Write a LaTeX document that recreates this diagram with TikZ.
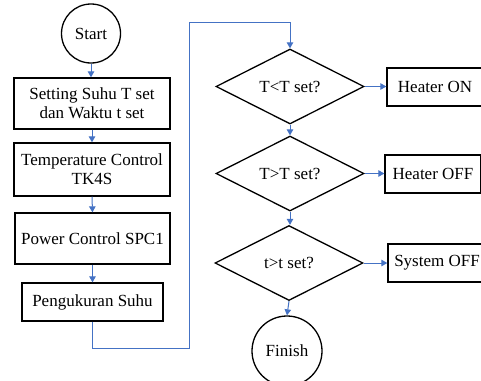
\documentclass[tikz,border=0pt]{standalone}
\usepackage{fontspec}
\setmainfont{Liberation Serif}
\usetikzlibrary{shapes.geometric,arrows.meta}
\definecolor{flowblue}{RGB}{68,114,196}
\tikzset{
  base/.style={draw=black,line width=1.3pt,font=\fontsize{17}{19}\selectfont,align=center,inner sep=0pt},
  procbox/.style={base,rectangle,minimum width=#1},
  termcirc/.style={base,circle,minimum size=#1},
  decision/.style={base,diamond,minimum width=148pt,minimum height=75pt,aspect=2},
  flow/.style={draw=flowblue,line width=1pt,-{Triangle[length=6pt,width=6.5pt]}},
}
\begin{document}
\begin{tikzpicture}[x=1pt,y=-1pt]
\useasboundingbox (0,0) rectangle (481,380);
\clip (0,0) rectangle (481,380);
% left column
\node[termcirc=59pt] (start) at (91,33.5) {Start};
\node[procbox=156pt,minimum height=51pt] (b1) at (92,103.5) {Setting Suhu T set\\dan Waktu t set};
\node[procbox=156pt,minimum height=53pt] (b2) at (92,169.5) {Temperature Control\\TK4S};
\node[procbox=155pt,minimum height=51pt] (b3) at (92.5,238.5) {Power Control SPC1};
\node[procbox=141pt,minimum height=38pt] (b4) at (92.5,302) {Pengukuran Suhu};
% right column
\node[decision] (d1) at (290,86.5) {T<T set?};
\node[decision] (d2) at (290,173.5) {T>T set?};
\node[decision] (d3) at (289,263) {t>t set?};
\node[termcirc=70pt] (fin) at (287,351) {Finish};
\node[procbox=96pt,minimum height=38pt] (hon) at (435,87) {Heater ON};
\node[procbox=96pt,minimum height=38pt] (hoff) at (433,174) {Heater OFF};
\node[procbox=98pt,minimum height=38pt] (soff) at (437,263) {System OFF};
% connectors
\draw[flow] (start.south) -- (start.south |- b1.north);
\draw[flow] (b1.south -| b2.north) -- (b2.north);
\draw[flow] (b2.south) -- (b3.north);
\draw[flow] (b3.south) -- (b4.north);
\coordinate (l1) at (92.5,348);
\coordinate (l2) at (189,348);
\coordinate (l3) at (189,22);
\coordinate (l4) at (290,22);
\draw[flow] (b4.south) -- (l1) -- (l2) -- (l3) -- (l4) -- (d1.north);
\draw[flow] (d1.south) -- (d2.north);
\draw[flow] (d2.south) -- (d2.south |- d3.north);
\draw[flow] (d3.south) -- (fin.north);
\draw[flow] (d1.east) -- (d1.east -| hon.west);
\draw[flow] (d2.east) -- (d2.east -| hoff.west);
\draw[flow] (d3.east) -- (d3.east -| soff.west);
\end{tikzpicture}
\end{document}
